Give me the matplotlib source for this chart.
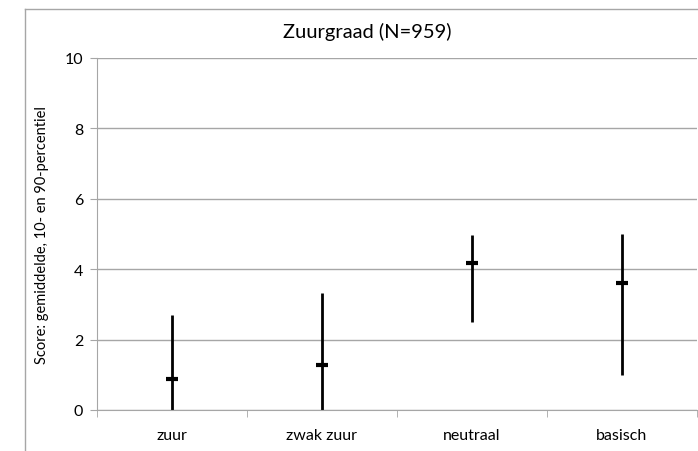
import matplotlib
matplotlib.use("Agg")
import matplotlib.pyplot as plt
from matplotlib.lines import Line2D

categories = ["zuur", "zwak zuur", "neutraal", "basisch"]
mean = [0.88, 1.28, 4.18, 3.6]
p10 = [0.0, 0.0, 2.5, 1.0]
p90 = [2.7, 3.32, 4.98, 5.0]

plt.rcParams['font.family'] = ['Lato', 'DejaVu Sans']
grey = "#a6a6a6"

fig = plt.figure(figsize=(6.98, 4.52), dpi=100)
ax = fig.add_axes([97 / 698, 41 / 452, 600 / 698, 352 / 452])

x = list(range(1, len(categories) + 1))
ax.vlines(x, p10, p90, color="black", linewidth=2)
ax.plot(x, mean, linestyle="none", marker="_", markersize=9, markeredgewidth=3, color="black")

ax.set_xlim(0.5, 4.5)
ax.set_ylim(0, 10)
ax.set_yticks([0, 2, 4, 6, 8, 10])
ax.set_xticks(x)
ax.set_xticklabels(categories, fontsize=11.5)
ax.set_xticks([0.5, 1.5, 2.5, 3.5, 4.5], minor=True)
ax.tick_params(axis="x", which="major", length=0, pad=13)
ax.tick_params(axis="x", which="minor", length=5, color=grey, direction="out")
ax.tick_params(axis="y", length=5, color=grey, labelsize=11.5, pad=5)
ax.grid(axis="y", color=grey, linewidth=1)
ax.set_axisbelow(True)
for s in ["top", "right"]:
    ax.spines[s].set_visible(False)
for s in ["left", "bottom"]:
    ax.spines[s].set_color(grey)

ax.set_ylabel("Score: gemiddelde, 10- en 90-percentiel", fontsize=10.5, labelpad=11)
fig.text(367 / 698, 1 - 32 / 452, "Zuurgraad (N=959)", ha="center", va="center", fontsize=14.5)

# outer chart frame
fig.add_artist(Line2D([25 / 698, 25 / 698], [0, 1 - 10 / 452], color=grey, linewidth=1, transform=fig.transFigure))
fig.add_artist(Line2D([25 / 698, 1], [1 - 10 / 452, 1 - 10 / 452], color=grey, linewidth=1, transform=fig.transFigure))

fig.savefig("out.png", dpi=100)
